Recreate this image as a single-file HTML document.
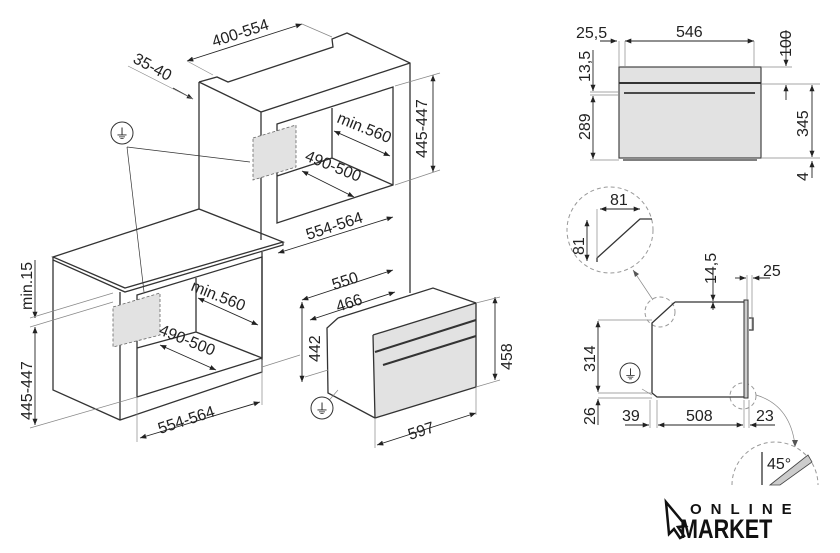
<!DOCTYPE html>
<html><head><meta charset="utf-8"><style>
html,body{margin:0;padding:0;background:#fff}
svg{display:block}
text{font-family:"Liberation Sans",sans-serif;font-size:16px;fill:#222}
.l{stroke:#333;stroke-width:1.3;fill:none}
.t{stroke:#888;stroke-width:0.7;fill:none}
.d{stroke:#222;stroke-width:0.9;fill:none;marker-start:url(#a);marker-end:url(#a)}
.g{fill:#e2e2e2}
</style></head><body>
<svg width="840" height="553" viewBox="0 0 840 553" xmlns="http://www.w3.org/2000/svg">
<defs><marker id="a" viewBox="0 0 10 10" refX="10" refY="5" markerWidth="7" markerHeight="7" orient="auto-start-reverse"><path d="M0,1 L10,5 L0,9 z" fill="#222"/></marker></defs>

<!-- upper cabinet -->
<path class="l" d="M199,82 L217,77 L228,82 L333,47 L332,39 L347,33 L410,63 L410,293"/>
<path class="l" d="M199,82 L261,112 L410,63 M199,82 L199,209 M261,112 L261,240"/>
<path class="l" d="M277,124 L393,87 L393,185 L277,223 Z M332,108 L332,158 L277,176 M332,158 L393,185"/>
<path class="g" d="M253,138 L296,125 L296,167 L253,180 Z" stroke="#666" stroke-dasharray="3,2" stroke-width="0.8"/>
<!-- counter + lower cabinet -->
<path class="l" d="M53,257 L199,209 L283,242 L125,288 Z M53,257 L53,260 L125,292 L283,245 L283,242"/>
<path class="l" d="M53,260 L53,390 L120,420 L262,372 L262,252 M120,292 L120,420"/>
<path class="l" d="M137,295 L262,257 L262,358 L137,397 Z M196,278 L196,332 L137,348 M196,332 L262,358"/>
<path class="g" d="M113,307 L160,293 L160,335 L113,347 Z" stroke="#666" stroke-dasharray="3,2" stroke-width="0.8"/>
<!-- plug icon -->
<circle cx="122" cy="133" r="11" fill="#fff" stroke="#333"/><text x="115" y="139" style="font-size:14px">⏚</text>
<path class="t" style="stroke:#333" d="M127,147 L250,162 M127,147 L144,292"/>
<!-- oven -->
<path class="g" d="M373,335 L476,303 L476,387 L375,418 Z"/>
<path class="l" d="M338,318 L433,288 L476,303 L476,387 L375,418 L328,393 L327,328 L338,318 M373,335 L476,303 M373,335 L375,418"/>
<path class="l" d="M375,352 L476,320 M383,365 L476,336" style="stroke-width:2"/>
<path class="t" d="M328,370 L305,377 M338,390 L325,405"/>
<circle cx="322" cy="408" r="11" fill="#fff" stroke="#333"/><text x="315" y="414" style="font-size:14px">⏚</text>
<!-- dims left -->
<path class="d" d="M187,61 L302,24"/><path class="t" d="M302,24 L332,37 M187,61 L213,75"/>
<text transform="translate(214,47) rotate(-18)">400-554</text>
<path class="d" d="M173,88 L193,99" style="marker-start:none"/><path class="t" d="M128,66 L193,99"/>
<text transform="translate(132,62) rotate(28)">35-40</text>
<path class="d" d="M433,75 L433,172"/><path class="t" d="M395,86 L440,73 M395,185 L440,170"/>
<text transform="translate(427,158) rotate(-90)">445-447</text>
<text transform="translate(336,122) rotate(22)">min.560</text>
<text transform="translate(304,160) rotate(22)">490-500</text>
<path class="d" d="M334,131 L390,156"/><path class="d" d="M302,171 L354,197"/>
<path class="d" d="M278,253 L393,217"/>
<text transform="translate(308,240) rotate(-18)">554-564</text>
<path class="d" d="M198,298 L258,325"/><path class="d" d="M160,345 L216,370"/>
<text transform="translate(190,290) rotate(22)">min.560</text>
<text transform="translate(158,334) rotate(22)">490-500</text>
<path class="d" d="M140,438 L260,402"/><path class="t" d="M137,397 L137,442 M262,360 L262,405 M262,367 L300,355"/>
<text transform="translate(160,434) rotate(-18)">554-564</text>
<path class="d" d="M35,327 L35,425"/><path class="d" d="M35,260 L35,318" style="marker-start:none"/>
<path class="t" d="M30,318 L113,293 M30,327 L113,302 M30,428 L137,397"/>
<text transform="translate(32,420) rotate(-90)">445-447</text>
<text transform="translate(32,310) rotate(-90)">min.15</text>
<!-- dims oven -->
<path class="d" d="M302,300 L393,270"/><text transform="translate(334,290) rotate(-18)">550</text>
<path class="d" d="M310,320 L395,292"/><text transform="translate(338,312) rotate(-18)">466</text>
<path class="d" d="M302,302 L302,382"/><text transform="translate(320,362) rotate(-90)">442</text>
<path class="d" d="M495,297 L495,380"/><text transform="translate(512,370) rotate(-90)">458</text>
<path class="d" d="M377,445 L476,413"/><text transform="translate(410,440) rotate(-18)">597</text>
<path class="t" d="M476,387 L500,380 M476,303 L500,297 M375,418 L375,448 M476,387 L476,415"/>

<!-- right top view -->
<rect x="619" y="67" width="142" height="91" fill="#e2e2e2" stroke="#444" stroke-width="1.2"/>
<path class="l" d="M619,83 L761,83" style="stroke-width:2"/><path class="l" d="M624,93 L755,93" style="stroke-width:1.8"/>
<path class="l" d="M623,160 L757,160"/>
<path class="d" d="M625,41 L754,41"/><text x="676" y="37">546</text>
<path class="d" d="M600,41 L617,41" style="marker-start:none"/><text x="576" y="38">25,5</text>
<path class="t" d="M619,41 L619,67 M625,41 L625,67 M754,41 L754,67 M761,67 L792,67 M761,84 L820,84 M761,158 L820,158 M590,92 L619,92 M590,95 L619,95 M590,160 L619,160"/>
<path class="d" d="M786,30 L786,66" style="marker-start:none"/><path class="d" d="M786,100 L786,85" style="marker-start:none"/>
<text transform="translate(791,57) rotate(-90)">100</text>
<path class="d" d="M812,85 L812,157"/><text transform="translate(808,137) rotate(-90)">345</text>
<path class="d" d="M812,178 L812,161" style="marker-start:none"/><text transform="translate(808,181) rotate(-90)">4</text>
<path class="d" d="M593,50 L593,91" style="marker-start:none"/><text transform="translate(590,82) rotate(-90)">13,5</text>
<path class="d" d="M593,96 L593,159"/><text transform="translate(590,140) rotate(-90)">289</text>

<!-- side view -->
<circle cx="610" cy="230" r="43" fill="none" stroke="#999" stroke-dasharray="4,3"/>
<path class="l" d="M597,262 L597,258 L640,219 L652,219"/>
<path class="d" d="M600,209 L640,209"/><text x="610" y="205">81</text>
<path class="d" d="M587,220 L587,261"/><text transform="translate(584,255) rotate(-90)">81</text>
<path class="t" d="M597,209 L597,258"/>
<path class="t" d="M653,300 L633,270"/><path d="M633,270 l2,7 l4,-3 z" fill="#555"/>
<circle cx="660" cy="312" r="15" fill="none" stroke="#999" stroke-dasharray="4,3"/>
<circle cx="743" cy="396" r="13" fill="none" stroke="#999" stroke-dasharray="4,3"/>
<path class="l" d="M675,302 L745,302 M675,302 L652,323 L652,393 L657,397 L745,397"/>
<rect x="744" y="300" width="4" height="98" fill="#ccc" stroke="#333" stroke-width="1"/>
<path class="l" d="M749,318 L753,318 L753,330 L749,330"/>
<path class="t" d="M598,320 L652,320 M598,393 L652,393 M598,398 L652,398 M650,400 L650,428 M657,400 L657,428 M744,400 L744,428 M749,400 L749,428 M747,275 L747,300 M752,275 L752,330"/>
<path class="d" d="M713,270 L713,301" style="marker-start:none"/><path class="d" d="M713,310 L713,302" style="marker-start:none"/>
<text transform="translate(716,284) rotate(-90)">14,5</text>
<path class="d" d="M735,278 L746,278" style="marker-start:none"/><path class="d" d="M770,278 L753,278" style="marker-start:none"/>
<text x="763" y="276">25</text>
<path class="d" d="M598,321 L598,392"/><text transform="translate(595,372) rotate(-90)">314</text>
<path class="d" d="M598,425 L598,399" style="marker-start:none"/><text transform="translate(595,425) rotate(-90)">26</text>
<path class="d" d="M625,425 L649,425" style="marker-start:none"/><text x="622" y="421">39</text>
<path class="d" d="M658,425 L743,425"/><text x="686" y="421">508</text>
<path class="d" d="M775,425 L750,425" style="marker-start:none"/><text x="756" y="421">23</text>
<circle cx="630" cy="373" r="10" fill="#fff" stroke="#333"/><text x="624" y="379" style="font-size:13px">⏚</text>
<path class="t" d="M642,389 L652,395"/>
<path class="t" d="M756,395 Q790,405 795,445"/><path d="M795,447 l-3,-7 l6,0 z" fill="#555"/>
<path d="M732,485 A43,43 0 0 1 818,485" fill="none" stroke="#999" stroke-dasharray="4,3"/>
<path class="l" d="M762,452 L762,485"/>
<path d="M770,485 L808,455 L812,462 L780,485 Z" fill="#ccc" stroke="#444" stroke-width="0.8"/>
<text x="767" y="469">45°</text>
<!-- logo -->
<path d="M666,502 L686,526 L678,527 L684,536 L680,538 L674,529 L669,534 Z" fill="none" stroke="#111" stroke-width="2.5"/>
<text x="690" y="514" style="font-size:15px;font-weight:bold;letter-spacing:9px;fill:#111">ONLINE</text>
<text transform="translate(680,538) scale(0.8,1)" style="font-size:27px;font-weight:bold;fill:#111">MARKET</text>
</svg>
</body></html>
